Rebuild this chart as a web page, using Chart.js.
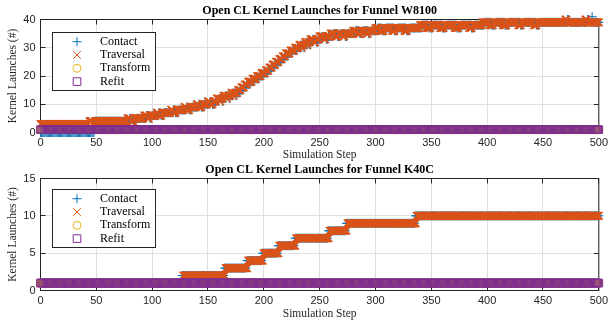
<!DOCTYPE html>
<html>
<head>
<meta charset="utf-8">
<script src="https://cdn.jsdelivr.net/npm/chart.js@4.4.1/dist/chart.umd.min.js"></script>
<style>
  html, body { margin: 0; padding: 0; background: #fff; }
  canvas { display: block; }
</style>
</head>
<body>
<canvas id="w8100" width="612" height="161"></canvas>
<canvas id="k40c" width="612" height="161"></canvas>
<script>
const lastStep = 500;
const seriesNames = ['Contact', 'Traversal', 'Transform', 'Refit'];

// launch counts are step functions: level[i] holds from start[i] until the next start
const w8100ContactStart = [0, 49,
  80, 83, 86, 95, 98, 100,
  106, 108, 111, 119, 121, 124, 131, 133, 136, 142,
  144, 147, 152, 154, 157, 160, 163, 164, 166, 169,
  170, 173, 175, 176, 179, 182, 185, 188, 192, 196,
  200, 204, 207, 210, 213, 216, 219, 222, 226, 230,
  234, 236, 237, 239, 241, 242, 244, 247, 249, 252,
  256, 258, 262, 266, 269, 273, 275, 282, 286, 289,
  294, 296, 302, 306, 310, 317, 320, 328, 331, 342,
  348, 352, 360, 364, 373, 377, 386, 389, 398, 404,
  408, 416, 420, 430, 433, 444, 447, 472, 474, 490,
  492, 494, 495];
const w8100ContactLevel = [0, 4,
  5, 4, 5, 6, 5, 6,
  7, 6, 7, 8, 7, 8, 9, 8, 9, 10,
  9, 10, 11, 10, 11, 12, 11, 12, 13, 12,
  13, 14, 13, 14, 15, 16, 17, 18, 19, 20,
  21, 22, 23, 24, 25, 26, 27, 28, 29, 30,
  31, 30, 31, 32, 31, 32, 33, 32, 33, 34,
  33, 34, 35, 34, 35, 34, 35, 36, 35, 36,
  35, 36, 37, 36, 37, 36, 37, 36, 37, 38,
  37, 38, 37, 38, 37, 38, 37, 38, 39, 38,
  39, 38, 39, 38, 39, 38, 39, 40, 39, 40,
  39, 41, 39];
const w8100TraversalStart = [0, 44, 47, 49, 78, 81, 84, 93, 96, 98,
  104, 106, 109, 117, 119, 122, 129, 131, 134, 140,
  142, 145, 150, 152, 155, 158, 161, 162, 164, 167,
  168, 171, 173, 174, 177, 180, 183, 186, 190, 194,
  198, 202, 205, 208, 211, 214, 217, 220, 224, 228,
  232, 234, 235, 237, 239, 240, 242, 245, 247, 250,
  254, 256, 260, 264, 267, 271, 273, 280, 284, 287,
  292, 294, 300, 304, 308, 315, 318, 326, 329, 340,
  346, 350, 358, 362, 371, 375, 384, 387, 396, 402,
  406, 414, 418, 428, 431, 442, 445, 470, 472, 488,
  490];
const w8100TraversalLevel = [3, 4, 3, 4, 5, 4, 5, 6, 5, 6,
  7, 6, 7, 8, 7, 8, 9, 8, 9, 10,
  9, 10, 11, 10, 11, 12, 11, 12, 13, 12,
  13, 14, 13, 14, 15, 16, 17, 18, 19, 20,
  21, 22, 23, 24, 25, 26, 27, 28, 29, 30,
  31, 30, 31, 32, 31, 32, 33, 32, 33, 34,
  33, 34, 35, 34, 35, 34, 35, 36, 35, 36,
  35, 36, 37, 36, 37, 36, 37, 36, 37, 38,
  37, 38, 37, 38, 37, 38, 37, 38, 39, 38,
  39, 38, 39, 38, 39, 38, 39, 40, 39, 40,
  39];
const w8100TransformStart = [0];
const w8100TransformLevel = [1];
const w8100RefitStart = [0];
const w8100RefitLevel = [1];

const k40cContactStart = [0, 127, 165, 185, 199, 213, 228, 258, 274, 336];
const k40cContactLevel = [1, 2, 3, 4, 5, 6, 7, 8, 9, 10];
const k40cTraversalStart = [0, 128, 166, 186, 200, 214, 229, 259, 275, 337];
const k40cTraversalLevel = [1, 2, 3, 4, 5, 6, 7, 8, 9, 10];
const k40cTransformStart = [0];
const k40cTransformLevel = [1];
const k40cRefitStart = [0];
const k40cRefitLevel = [1];

function expand(starts, levels) {
  const pts = [];
  let k = 0;
  for (let s = 0; s <= lastStep; s++) {
    while (k + 1 < starts.length && starts[k + 1] <= s) k++;
    pts.push({ x: s, y: levels[k] });
  }
  return pts;
}

const markers = [
  { style: 'cross', radius: 4.5, color: '#0072BD', width: 1 },
  { style: 'crossRot', radius: 5.4, color: '#D95319', width: 1.5 },
  { style: 'circle', radius: 4, color: '#EDB120', width: 1 },
  { style: 'rect', radius: 5.4, color: '#7E2F8E', width: 1 }
];

function datasets(series) {
  return series.map((data, i) => ({
    label: seriesNames[i],
    data: data,
    showLine: false,
    pointStyle: markers[i].style,
    pointRadius: markers[i].radius,
    pointBorderColor: markers[i].color,
    pointBackgroundColor: 'rgba(0,0,0,0)',
    pointBorderWidth: markers[i].width,
    clip: false,
    order: 4 - i
  }));
}

// box around the axes with inward tick marks on all four sides
const axesBox = {
  id: 'axesBox',
  beforeDatasetsDraw(chart) {
    const { ctx, chartArea: a, scales } = chart;
    ctx.save();
    ctx.strokeStyle = '#262626';
    ctx.lineWidth = 1;
    ctx.beginPath();
    scales.x.ticks.forEach(t => {
      const px = Math.floor(scales.x.getPixelForValue(t.value)) + 0.5;
      ctx.moveTo(px, a.bottom); ctx.lineTo(px, a.bottom - 5);
      ctx.moveTo(px, a.top); ctx.lineTo(px, a.top + 5);
    });
    scales.y.ticks.forEach(t => {
      const py = Math.floor(scales.y.getPixelForValue(t.value)) + 0.5;
      ctx.moveTo(a.left, py); ctx.lineTo(a.left + 5, py);
      ctx.moveTo(a.right, py); ctx.lineTo(a.right - 5, py);
    });
    ctx.stroke();
    ctx.strokeRect(a.left, a.top, a.right - a.left, a.bottom - a.top);
    ctx.restore();
  }
};

const boxLegend = {
  id: 'boxLegend',
  afterDraw(chart, args, opts) {
    const { ctx } = chart;
    const x = opts.x, y = opts.y, w = 103, h = 58;
    ctx.save();
    ctx.fillStyle = '#fff';
    ctx.fillRect(x, y, w, h);
    ctx.strokeStyle = '#262626';
    ctx.lineWidth = 1;
    ctx.strokeRect(x + 0.5, y + 0.5, w, h);
    ctx.font = '12px "Liberation Serif"';
    ctx.textAlign = 'left';
    ctx.textBaseline = 'middle';
    chart.data.datasets.forEach((ds, i) => {
      const cy = y + 9.7 + i * 13.3;
      ctx.strokeStyle = ds.pointBorderColor;
      ctx.fillStyle = 'rgba(0,0,0,0)';
      ctx.lineWidth = 1;
      Chart.helpers.drawPoint(ctx, { pointStyle: ds.pointStyle, radius: ds.pointRadius, rotation: 0, borderWidth: 1 }, x + 25, cy);
      ctx.fillStyle = '#000';
      ctx.fillText(ds.label, x + 48, cy);
    });
    ctx.restore();
  }
};

function makeChart(id, title, series, yMax, yStep, cfg) {
  new Chart(document.getElementById(id), {
    type: 'scatter',
    data: { datasets: datasets(series) },
    options: {
      responsive: false,
      animation: false,
      events: [],
      layout: { padding: { left: 0, right: 11, top: 0, bottom: 0 } },
      scales: {
        x: {
          type: 'linear',
          min: 0,
          max: lastStep,
          afterFit(s) { s.height = cfg.xHeight; },
          ticks: { stepSize: 50, padding: 4, color: '#262626', font: { family: 'Liberation Sans', size: 11 } },
          grid: { color: '#e0e0e0', drawTicks: false },
          border: { display: false },
          title: {
            display: true,
            text: 'Simulation Step',
            color: '#262626',
            font: { family: 'Liberation Serif', size: 11.5, lineHeight: 1 },
            padding: { top: 0, bottom: cfg.xTitlePad }
          }
        },
        y: {
          min: 0,
          max: yMax,
          afterFit(s) { s.width = 40.5; },
          ticks: { stepSize: yStep, padding: 5, color: '#262626', font: { family: 'Liberation Sans', size: 11 } },
          grid: { color: '#e0e0e0', drawTicks: false },
          border: { display: false },
          title: {
            display: true,
            text: 'Kernel Launches (#)',
            color: '#262626',
            font: { family: 'Liberation Serif', size: 11.5, lineHeight: 1 },
            padding: { top: 7, bottom: 0 }
          }
        }
      },
      plugins: {
        legend: { display: false },
        tooltip: { enabled: false },
        title: {
          display: true,
          fullSize: false,
          text: title,
          color: '#000',
          font: { family: 'Liberation Serif', size: 12, weight: 'bold', lineHeight: 1.2 },
          padding: { top: cfg.titleTop, bottom: cfg.titleBottom }
        },
        boxLegend: { x: 52, y: cfg.legendY }
      }
    },
    plugins: [axesBox, boxLegend]
  });
}

makeChart('w8100', 'Open CL Kernel Launches for Funnel W8100', [
  expand(w8100ContactStart, w8100ContactLevel),
  expand(w8100TraversalStart, w8100TraversalLevel),
  expand(w8100TransformStart, w8100TransformLevel),
  expand(w8100RefitStart, w8100RefitLevel)
], 40, 10, { xHeight: 28.5, xTitlePad: 0, titleTop: 3.8, titleBottom: 1.3, legendY: 32 });

makeChart('k40c', 'Open CL Kernel Launches for Funnel K40C', [
  expand(k40cContactStart, k40cContactLevel),
  expand(k40cTraversalStart, k40cTraversalLevel),
  expand(k40cTransformStart, k40cTransformLevel),
  expand(k40cRefitStart, k40cRefitLevel)
], 15, 5, { xHeight: 31.5, xTitlePad: 2.3, titleTop: 1.8, titleBottom: 1.3, legendY: 28 });
</script>
</body>
</html>
